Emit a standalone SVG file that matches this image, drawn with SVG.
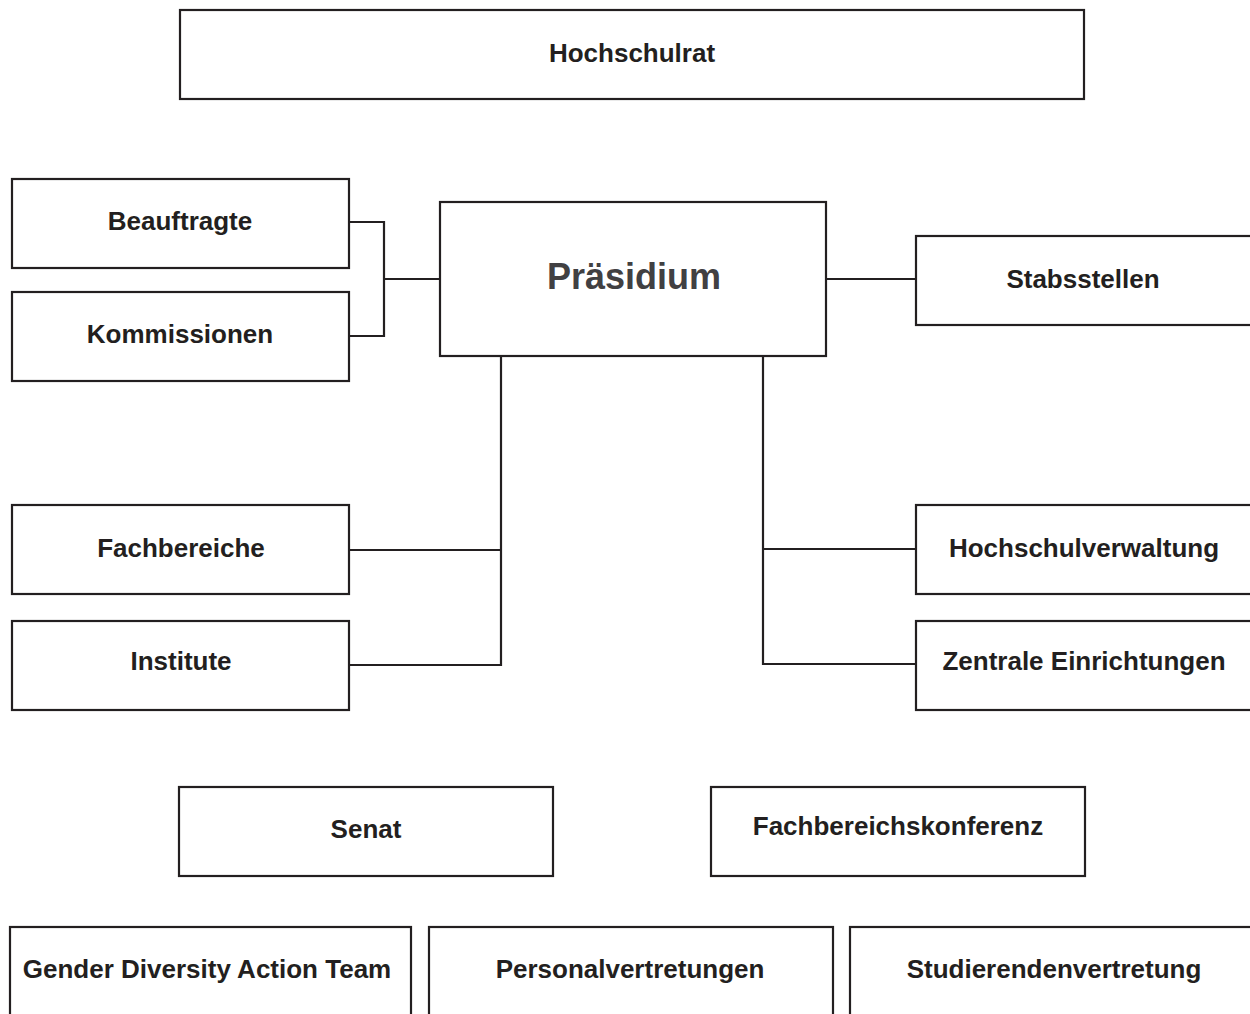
<svg xmlns="http://www.w3.org/2000/svg" width="1250" height="1014" viewBox="0 0 1250 1014">
<style>
.box{fill:#fff;stroke:#231f20;stroke-width:2.2}
.lbl{font-family:"Liberation Sans",Arial,sans-serif;font-weight:bold;font-size:26px;fill:#231f20;text-anchor:middle}
.big{font-size:36px;fill:#414042}
.con{fill:none;stroke:#231f20;stroke-width:2.2}
</style>
<rect width="1250" height="1014" fill="#fff"/>
<g id="connectors">
<polyline class="con" points="349,222 384,222 384,336 349,336"/>
<line class="con" x1="384" y1="279" x2="440" y2="279"/>
<line class="con" x1="826" y1="279" x2="916" y2="279"/>
<polyline class="con" points="501,356 501,665 349,665"/>
<line class="con" x1="349" y1="550" x2="501" y2="550"/>
<polyline class="con" points="763,356 763,664 916,664"/>
<line class="con" x1="763" y1="549" x2="916" y2="549"/>
</g>
<g id="hochschulrat"><rect class="box" x="180" y="10" width="904" height="89"/><text class="lbl" x="632" y="62">Hochschulrat</text></g>
<g id="beauftragte"><rect class="box" x="12" y="179" width="337" height="89"/><text class="lbl" x="180" y="230">Beauftragte</text></g>
<g id="kommissionen"><rect class="box" x="12" y="292" width="337" height="89"/><text class="lbl" x="180" y="343">Kommissionen</text></g>
<g id="praesidium"><rect class="box" x="440" y="202" width="386" height="154"/><text class="lbl big" x="634" y="289">Präsidium</text></g>
<g id="stabsstellen"><rect class="box" x="916" y="236" width="340" height="89"/><text class="lbl" x="1083" y="288">Stabsstellen</text></g>
<g id="fachbereiche"><rect class="box" x="12" y="505" width="337" height="89"/><text class="lbl" x="181" y="557">Fachbereiche</text></g>
<g id="institute"><rect class="box" x="12" y="621" width="337" height="89"/><text class="lbl" x="181" y="670">Institute</text></g>
<g id="hochschulverwaltung"><rect class="box" x="916" y="505" width="340" height="89"/><text class="lbl" x="1084" y="557">Hochschulverwaltung</text></g>
<g id="zentrale"><rect class="box" x="916" y="621" width="340" height="89"/><text class="lbl" x="1084" y="670">Zentrale Einrichtungen</text></g>
<g id="senat"><rect class="box" x="179" y="787" width="374" height="89"/><text class="lbl" x="366" y="838">Senat</text></g>
<g id="fbk"><rect class="box" x="711" y="787" width="374" height="89"/><text class="lbl" x="898" y="835">Fachbereichskonferenz</text></g>
<g id="gdat"><rect class="box" x="10" y="927" width="401" height="100"/><text class="lbl" x="207" y="978">Gender Diversity Action Team</text></g>
<g id="personal"><rect class="box" x="429" y="927" width="404" height="100"/><text class="lbl" x="630" y="978">Personalvertretungen</text></g>
<g id="studierende"><rect class="box" x="850" y="927" width="410" height="100"/><text class="lbl" x="1054" y="978">Studierendenvertretung</text></g>
</svg>
